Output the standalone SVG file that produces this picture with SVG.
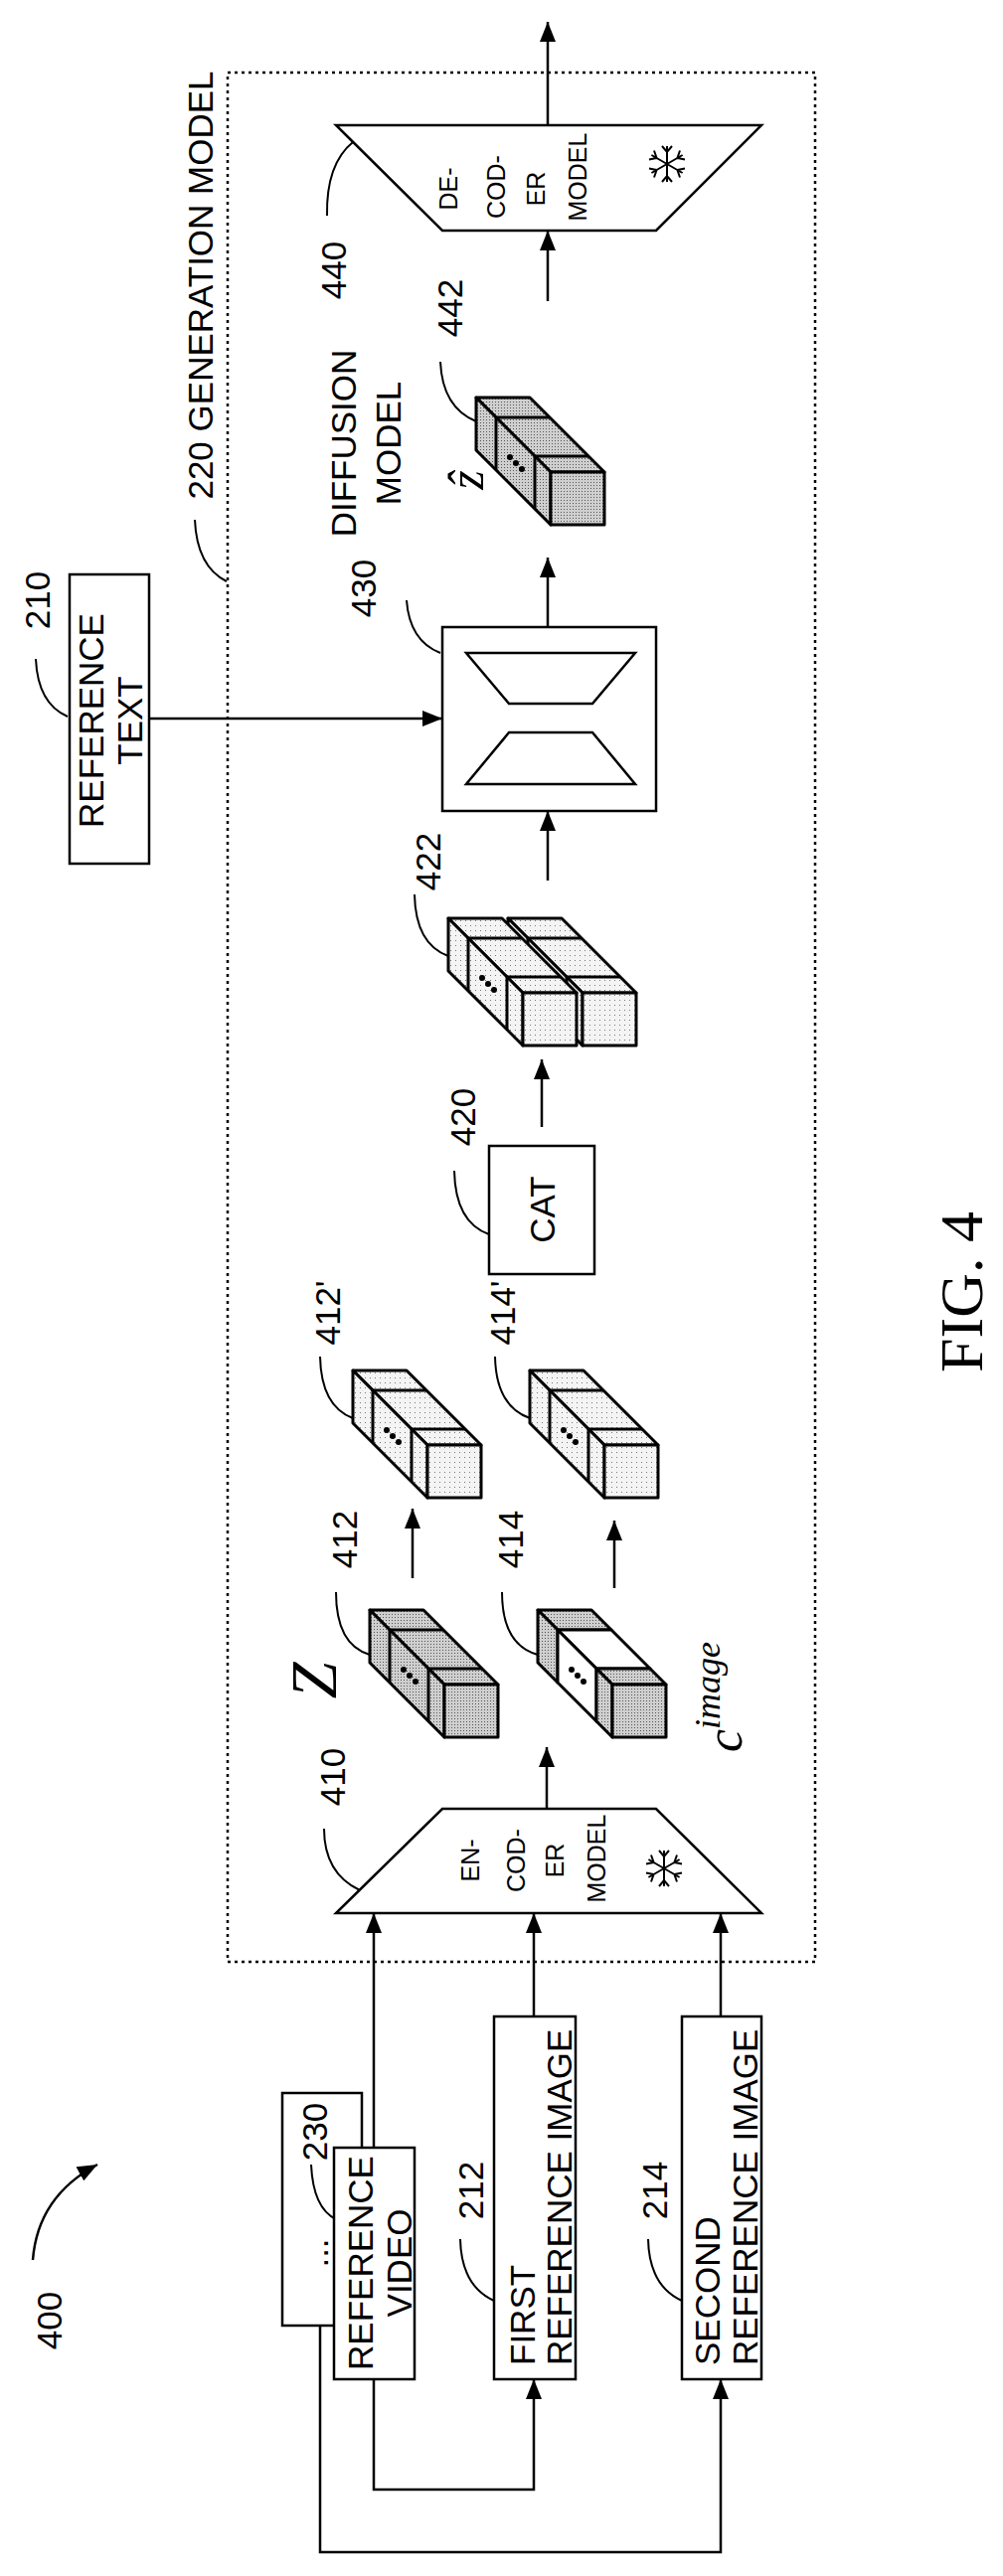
<svg xmlns="http://www.w3.org/2000/svg" xmlns:xlink="http://www.w3.org/1999/xlink" width="1009" height="2592" viewBox="0 0 1009 2592">
<style>
.t{font-family:"Liberation Sans",Arial,sans-serif;font-size:35px;fill:#000}
.s{font-family:"Liberation Sans",Arial,sans-serif;font-size:25px;fill:#000}
.m{font-family:"Liberation Serif","Times New Roman",serif;font-style:italic;fill:#000}
.box{fill:#fff;stroke:#000;stroke-width:2.5}
.ln{fill:none;stroke:#000;stroke-width:2.5}
.ld{fill:none;stroke:#000;stroke-width:2}
.ar{fill:none;stroke:#000;stroke-width:2.5;marker-end:url(#ah)}
.cb{stroke:#000;stroke-width:3;stroke-linejoin:round}
</style>
<defs>
<marker id="ah" viewBox="0 0 20 16" refX="20" refY="8" markerWidth="20" markerHeight="16" markerUnits="userSpaceOnUse" orient="auto"><path d="M0,0 L20,8 L0,16 z" fill="#000"/></marker>
<pattern id="dk" width="3" height="3" patternUnits="userSpaceOnUse"><rect width="3" height="3" fill="#cfcfcf"/><rect x="1" y="1" width="1" height="1" fill="#555"/></pattern>
<pattern id="lt" width="5" height="5" patternUnits="userSpaceOnUse"><rect width="5" height="5" fill="#f4f4f4"/><rect x="2" y="2" width="1" height="1" fill="#777"/></pattern>
<g id="dots"><circle cx="34" cy="60" r="1.5"/><circle cx="40" cy="66" r="1.5"/><circle cx="46" cy="72" r="1.5"/></g>
<g id="div" fill="none" stroke="#000" stroke-width="3"><path d="M20,20 L74,20 M20,20 L20,73 M59,59 L113,59 M59,59 L59,112"/></g>
<g id="barD" class="cb" fill="url(#dk)"><polygon points="0,0 54,0 129,75 75,75"/><polygon points="0,0 75,75 75,128 0,53"/><rect x="75" y="75" width="54" height="53"/><use xlink:href="#div"/><use xlink:href="#dots"/></g>
<g id="barL" class="cb" fill="url(#lt)"><polygon points="0,0 54,0 129,75 75,75"/><polygon points="0,0 75,75 75,128 0,53"/><rect x="75" y="75" width="54" height="53"/><use xlink:href="#div"/><use xlink:href="#dots"/></g>
<g id="barM" class="cb"><polygon fill="url(#dk)" points="0,0 54,0 74,20 20,20"/><polygon fill="#fff" points="20,20 74,20 113,59 59,59"/><polygon fill="url(#dk)" points="59,59 113,59 129,75 75,75"/><polygon fill="url(#dk)" points="0,0 20,20 20,73 0,53"/><polygon fill="#fff" points="20,20 59,59 59,112 20,73"/><polygon fill="url(#dk)" points="59,59 75,75 75,128 59,112"/><rect fill="url(#dk)" x="75" y="75" width="54" height="53"/><use xlink:href="#dots"/></g>
<g id="flake" fill="none" stroke="#000" stroke-width="2"><path d="M0,-18 V18 M-15.6,-9 L15.6,9 M-15.6,9 L15.6,-9 M-5,-18 L0,-12 L5,-18 M-5,18 L0,12 L5,18 M-18,-4.5 L-10.4,-6 L-13,-13.5 M18,4.5 L10.4,6 L13,13.5 M-18,4.5 L-10.4,6 L-13,13.5 M18,-4.5 L10.4,-6 L13,-13.5"/></g>
</defs>

<rect x="229" y="73" width="591" height="1901" fill="none" stroke="#000" stroke-width="2.5" stroke-dasharray="3,4"/>

<g id="connectors">
<path class="ar" d="M551,126 V22"/>
<path class="ar" d="M551,303 V232"/>
<path class="ar" d="M551,631 V561"/>
<path class="ar" d="M551,886 V816"/>
<path class="ar" d="M150,723 H445"/>
<path class="ar" d="M545,1134 V1066"/>
<path class="ar" d="M415,1588 V1518"/>
<path class="ar" d="M618,1598 V1530"/>
<path class="ar" d="M550,1820 V1758"/>
<path class="ar" d="M376,2161 V1925"/>
<path class="ar" d="M537,2029 V1925"/>
<path class="ar" d="M725,2029 V1925"/>
<path class="ar" d="M376,2394 V2505 H537 V2394"/>
<path class="ar" d="M322,2340 V2568 H725 V2394"/>
<path class="ar" d="M33,2274 Q38,2210 98,2178"/>
</g>

<g id="n220"><text class="t" text-anchor="middle" transform="translate(214,287) rotate(-90)">220 GENERATION MODEL</text><path class="ld" d="M196,523 Q198,570 228,585"/></g>

<g id="n440"><polygon class="box" points="338,126 766,126 660,232 445,232"/>
<text class="s" text-anchor="middle" transform="translate(460,190) rotate(-90)">DE-</text>
<text class="s" text-anchor="middle" transform="translate(508,188) rotate(-90)">COD-</text>
<text class="s" text-anchor="middle" transform="translate(548,190) rotate(-90)">ER</text>
<text class="s" text-anchor="middle" transform="translate(590,178) rotate(-90)">MODEL</text>
<use xlink:href="#flake" x="671" y="165"/>
<text class="t" text-anchor="middle" transform="translate(348,272) rotate(-90)">440</text><path class="ld" d="M329,217 Q328,165 355,143"/></g>

<g id="n442"><use xlink:href="#barD" x="479" y="400"/>
<text class="m" font-size="50" text-anchor="middle" transform="translate(486,483) rotate(-90)">ẑ</text>
<text class="t" text-anchor="middle" transform="translate(465,310) rotate(-90)">442</text><path class="ld" d="M443,364 Q445,410 479,424"/></g>

<g id="n430"><rect class="box" x="445" y="631" width="215" height="185"/>
<polygon class="ln" points="469,657 639,657 596,708 512,708"/>
<polygon class="ln" points="512,737 596,737 639,789 469,789"/>
<text class="t" text-anchor="middle" transform="translate(358,446) rotate(-90)">DIFFUSION</text>
<text class="t" text-anchor="middle" transform="translate(403,446) rotate(-90)">MODEL</text>
<text class="t" text-anchor="middle" transform="translate(378,592) rotate(-90)">430</text><path class="ld" d="M409,604 Q412,645 443,657"/></g>

<g id="n210"><rect class="box" x="70" y="578" width="80" height="291"/>
<text class="t" text-anchor="middle" transform="translate(104,725) rotate(-90)">REFERENCE</text>
<text class="t" text-anchor="middle" transform="translate(143,725) rotate(-90)">TEXT</text>
<text class="t" text-anchor="middle" transform="translate(50,604) rotate(-90)">210</text><path class="ld" d="M36,663 Q38,708 68,721"/></g>

<g id="n422"><use xlink:href="#barL" x="511" y="924"/><use xlink:href="#barL" x="451" y="924"/>
<text class="t" text-anchor="middle" transform="translate(443,867) rotate(-90)">422</text><path class="ld" d="M417,900 Q418,950 451,962"/></g>

<g id="n420"><rect class="box" x="492" y="1153" width="106" height="129"/>
<text class="t" text-anchor="middle" transform="translate(558,1217) rotate(-90)">CAT</text>
<text class="t" text-anchor="middle" transform="translate(478,1124) rotate(-90)">420</text><path class="ld" d="M457,1178 Q458,1230 492,1242"/></g>

<g id="n412p"><use xlink:href="#barL" x="355" y="1379"/>
<text class="t" text-anchor="middle" transform="translate(342,1321) rotate(-90)">412'</text><path class="ld" d="M322,1365 Q323,1415 355,1427"/></g>

<g id="n414p"><use xlink:href="#barL" x="533" y="1379"/>
<text class="t" text-anchor="middle" transform="translate(518,1321) rotate(-90)">414'</text><path class="ld" d="M498,1365 Q499,1415 533,1427"/></g>

<g id="n412"><use xlink:href="#barD" x="372" y="1620"/>
<text class="m" font-size="66" text-anchor="middle" transform="translate(338,1691) rotate(-90)">Z</text>
<text class="t" text-anchor="middle" transform="translate(359,1549) rotate(-90)">412</text><path class="ld" d="M338,1602 Q338,1655 372,1665"/></g>

<g id="n414"><use xlink:href="#barM" x="541" y="1620"/>
<text class="m" font-size="52" transform="translate(746,1763) rotate(-90)">c<tspan font-size="36" dy="-22">image</tspan></text>
<text class="t" text-anchor="middle" transform="translate(526,1549) rotate(-90)">414</text><path class="ld" d="M505,1602 Q505,1655 541,1665"/></g>

<g id="n410"><polygon class="box" points="445,1820 660,1820 766,1925 338,1925"/>
<text class="s" text-anchor="middle" transform="translate(482,1872) rotate(-90)">EN-</text>
<text class="s" text-anchor="middle" transform="translate(528,1872) rotate(-90)">COD-</text>
<text class="s" text-anchor="middle" transform="translate(567,1872) rotate(-90)">ER</text>
<text class="s" text-anchor="middle" transform="translate(609,1870) rotate(-90)">MODEL</text>
<use xlink:href="#flake" x="668" y="1880"/>
<text class="t" text-anchor="middle" transform="translate(347,1788) rotate(-90)">410</text><path class="ld" d="M326,1840 Q326,1885 362,1902"/></g>

<g id="n230"><rect class="box" x="284" y="2106" width="80" height="234"/>
<text class="t" text-anchor="middle" transform="translate(330,2267) rotate(-90)">...</text>
<text class="t" text-anchor="middle" transform="translate(329,2145) rotate(-90)">230</text><path class="ld" d="M313,2178 Q315,2222 338,2233"/></g>

<g id="n_refvideo"><rect class="box" x="336" y="2161" width="81" height="233"/>
<text class="t" text-anchor="middle" transform="translate(375,2277) rotate(-90)">REFERENCE</text>
<text class="t" text-anchor="middle" transform="translate(414,2277) rotate(-90)">VIDEO</text></g>

<g id="n212"><rect class="box" x="497" y="2029" width="82" height="365"/>
<text class="t" transform="translate(538,2380) rotate(-90)">FIRST</text>
<text class="t" transform="translate(575,2380) rotate(-90)">REFERENCE IMAGE</text>
<text class="t" text-anchor="middle" transform="translate(486,2204) rotate(-90)">212</text><path class="ld" d="M463,2253 Q464,2300 497,2315"/></g>

<g id="n214"><rect class="box" x="686" y="2029" width="80" height="365"/>
<text class="t" transform="translate(724,2380) rotate(-90)">SECOND</text>
<text class="t" transform="translate(762,2380) rotate(-90)">REFERENCE IMAGE</text>
<text class="t" text-anchor="middle" transform="translate(671,2204) rotate(-90)">214</text><path class="ld" d="M652,2253 Q653,2300 686,2315"/></g>

<g id="n400"><text class="t" text-anchor="middle" transform="translate(62,2335) rotate(-90)">400</text></g>

<text font-family="Liberation Serif,serif" font-size="62" text-anchor="middle" transform="translate(988,1300) rotate(-90)">FIG. 4</text>
</svg>
